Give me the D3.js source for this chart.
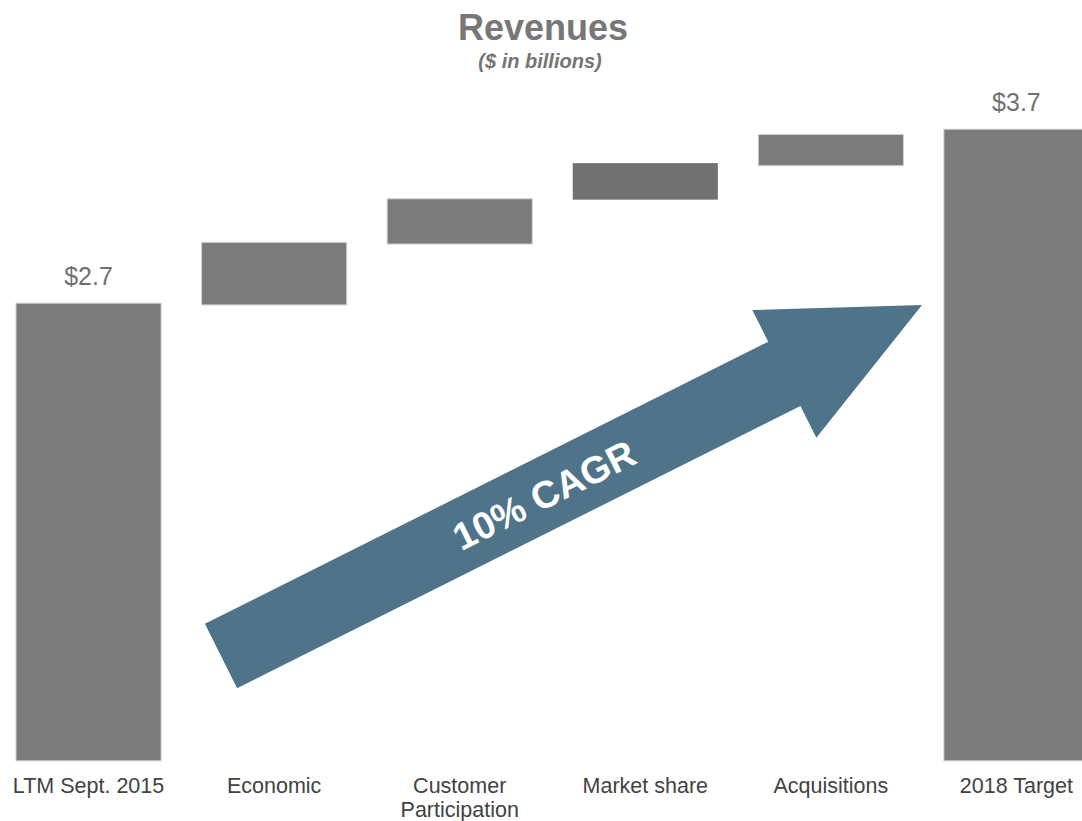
<!DOCTYPE html>
<html>
<head>
<meta charset="utf-8">
<script src="https://cdn.jsdelivr.net/npm/d3@7/dist/d3.min.js"></script>
<style>
  html, body { margin: 0; padding: 0; background: #ffffff; overflow: hidden; }
  svg { display: block; font-family: "Liberation Sans", Arial, Helvetica, sans-serif; }
</style>
</head>
<body>
<svg id="chart" width="1082" height="821"></svg>
<script>
// Revenue bridge, $ billions
const categories = ["LTM Sept. 2015", "Economic", "Customer\nParticipation", "Market share", "Acquisitions", "2018 Target"];
const startTotal = 2.7;
const endTotal = 3.7;
const totalLabels = ["$2.7", "$3.7"];
// floating bridge steps: bottom and top of each step
const stepBottom = [2.69, 3.04, 3.295, 3.49];
const stepTop = [3.05, 3.30, 3.505, 3.67];
const stepNames = ["Economic", "Customer\nParticipation", "Market share", "Acquisitions"];
const growthLabel = "10% CAGR";

const W = 1082, H = 821;
const svg = d3.select("#chart");

const x = d3.scaleBand()
  .domain(categories)
  .range([16, 1089])
  .paddingInner(0.218)
  .paddingOuter(0);

const y = d3.scaleLinear()
  .domain([0.07, 3.9])
  .range([760.8, 94.4]);

const barFill = "#7b7b7d";
const barEdge = "#d2d2d2";

// title block
svg.append("text")
  .attr("x", 543).attr("y", 40)
  .attr("text-anchor", "middle")
  .attr("font-size", 36).attr("font-weight", "bold")
  .attr("fill", "#777777")
  .text("Revenues");
svg.append("text")
  .attr("x", 540).attr("y", 68)
  .attr("text-anchor", "middle")
  .attr("font-size", 20).attr("font-weight", "bold").attr("font-style", "italic")
  .attr("fill", "#747474")
  .text("($ in billions)");

// total bars (start and end)
const totals = [
  { cat: categories[0], value: startTotal, label: totalLabels[0] },
  { cat: categories[5], value: endTotal, label: totalLabels[1] }
];
const floor = y.range()[0];

svg.append("g").selectAll("rect")
  .data(totals)
  .join("rect")
  .attr("x", d => x(d.cat))
  .attr("width", x.bandwidth())
  .attr("y", d => y(d.value))
  .attr("height", d => floor - y(d.value))
  .attr("fill", barFill)
  .attr("stroke", barEdge)
  .attr("stroke-width", 1);

svg.append("g").selectAll("text")
  .data(totals)
  .join("text")
  .attr("x", d => x(d.cat) + x.bandwidth() / 2)
  .attr("y", d => y(d.value) - 18)
  .attr("text-anchor", "middle")
  .attr("font-size", 25)
  .attr("fill", "#707070")
  .text(d => d.label);

// floating step bars
const steps = stepNames.map((name, i) => ({ cat: name, lo: stepBottom[i], hi: stepTop[i] }));
svg.append("g").selectAll("rect")
  .data(steps)
  .join("rect")
  .attr("x", d => x(d.cat))
  .attr("width", x.bandwidth())
  .attr("y", d => y(d.hi))
  .attr("height", d => y(d.lo) - y(d.hi))
  .attr("fill", d => d.cat === "Market share" ? "#717172" : barFill)
  .attr("stroke", d => d.cat === "Market share" ? "none" : barEdge)
  .attr("stroke-width", 1);

// category labels
const xAxis = svg.append("g");
categories.forEach(c => {
  const lines = c.split("\n");
  const t = xAxis.append("text")
    .attr("x", x(c) + x.bandwidth() / 2)
    .attr("y", 793)
    .attr("text-anchor", "middle")
    .attr("font-size", 21.5)
    .attr("fill", "#424242");
  lines.forEach((ln, i) => {
    t.append("tspan")
      .attr("x", x(c) + x.bandwidth() / 2)
      .attr("dy", i === 0 ? 0 : 24)
      .text(ln);
  });
});

// growth arrow: tail centre, direction, length and widths
const arrow = { cx: 221, cy: 656, angle: -26.6, length: 784, shaft: 72, headW: 143, headL: 154 };
const a = arrow.angle * Math.PI / 180;
const u = [Math.cos(a), Math.sin(a)];
const n = [-Math.sin(a), Math.cos(a)];
const pt = (s, t) => [arrow.cx + u[0] * s + n[0] * t, arrow.cy + u[1] * s + n[1] * t];
const neck = arrow.length - arrow.headL;
const arrowPts = [
  pt(0, -arrow.shaft / 2),
  pt(neck, -arrow.shaft / 2),
  pt(neck, -arrow.headW / 2),
  pt(arrow.length, 0),
  pt(neck, arrow.headW / 2),
  pt(neck, arrow.shaft / 2),
  pt(0, arrow.shaft / 2)
];
svg.append("path")
  .attr("d", d3.line()(arrowPts) + "Z")
  .attr("fill", "#4f748a");

const mid = pt(361, 1);
svg.append("text")
  .attr("transform", `translate(${mid[0]},${mid[1]}) rotate(${arrow.angle})`)
  .attr("text-anchor", "middle")
  .attr("dominant-baseline", "central")
  .attr("font-size", 38).attr("font-weight", "bold")
  .attr("fill", "#ffffff")
  .text(growthLabel);
</script>
</body>
</html>
